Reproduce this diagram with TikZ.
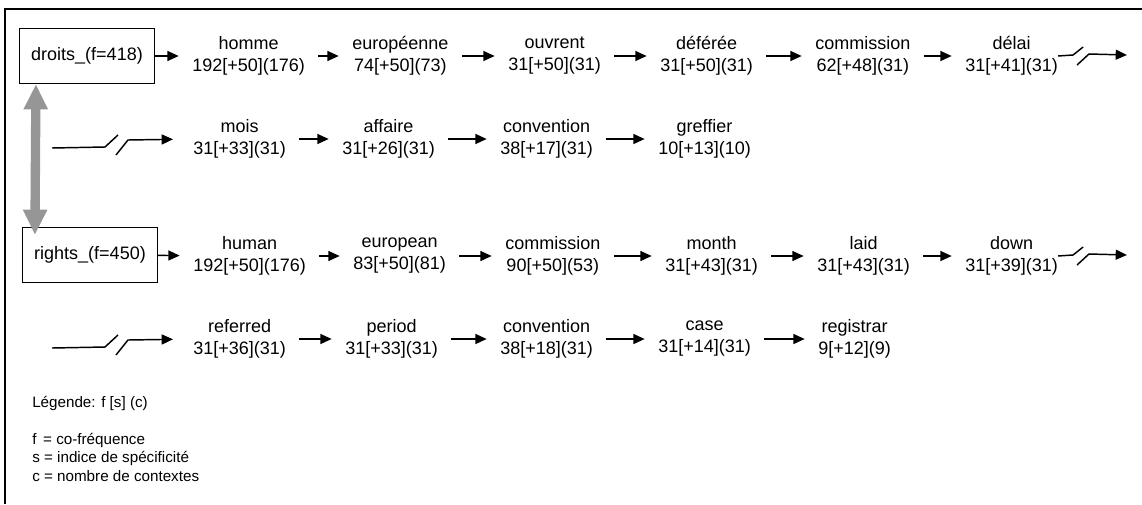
\documentclass[tikz,border=0pt]{standalone}
\usepackage{fontspec}
\usetikzlibrary{arrows.meta,calc}
\newfontfamily\lib{Liberation Sans}
\newcommand\wfont{\lib\fontsize{13.5}{16.5}\selectfont}
\newcommand\lfont{\lib\fontsize{11.4}{13}\selectfont}
\definecolor{grayarrow}{RGB}{150,150,150}
\tikzset{
 word/.style={font=\wfont, align=center, inner sep=0pt, anchor=west},
 arr/.style={-{Triangle[length=8.5pt,width=7.5pt]}, line width=1.1pt, shorten <=10pt, shorten >=10pt},
 brk/.style={line width=1.1pt},
 brkarr/.style={-{Triangle[length=8.5pt,width=7.5pt]}, line width=1.1pt},
 headbox/.style={draw, line width=1.1pt, minimum width=101pt, minimum height=41pt, inner sep=0pt, font=\wfont},
 dbl/.style={{Triangle[length=19pt,width=17pt]}-{Triangle[length=19pt,width=17pt]}, line width=7pt, draw=grayarrow},
 legend/.style={font=\lfont, anchor=west, inner sep=0pt},
}
\begin{document}
\begin{tikzpicture}[x=0.75pt,y=-0.75pt]
\useasboundingbox (0,0) rectangle (1142,504);
\draw[line width=1.5pt] (5,504) -- (5,9) -- (1142,9);

% row 1
\node[headbox] (droits) at (87,56) {droits\_(f=418)};
\node[word] (homme) at (192,56) {homme\\192[+50](176)};
\node[word] (europeenne) at (352,56) {européenne\\74[+50](73)};
\node[word] (ouvrent) at (508,56) {ouvrent\\31[+50](31)};
\node[word] (deferee) at (660,56) {déférée\\31[+50](31)};
\node[word] (commissionA) at (815,56) {commission\\62[+48](31)};
\node[word] (delai) at (965,56) {délai\\31[+41](31)};

\draw[arr, shorten <=0pt] (droits) -- (homme);
\draw[arr] (homme) -- (europeenne);
\draw[arr] (europeenne) -- (ouvrent);
\draw[arr] (ouvrent) -- (deferee);
\draw[arr] (deferee) -- (commissionA);
\draw[arr] (commissionA) -- (delai);

\coordinate (b1s) at (1077,65);
\coordinate (b1e) at (1127,55);
\draw[brk] (delai.east) -- ++(15,-1) -- ++(10,-8);
\draw[brkarr] (b1s) -- ++(12,-11) -- (b1e);

% row 2
\node[word] (mois) at (193,139) {mois\\31[+33](31)};
\node[word] (affaire) at (342,139) {affaire\\31[+26](31)};
\node[word] (conventionA) at (500,139) {convention\\38[+17](31)};
\node[word] (greffier) at (658,139) {greffier\\10[+13](10)};

\coordinate (b2a) at (52,148);
\coordinate (b2b) at (116,155);
\draw[brk] (b2a) -- ++(53,-1) -- ++(13,-12);
\draw[brkarr, shorten >=15pt] (b2b) -- ++(12,-15) -- (mois.west);
\draw[arr] (mois) -- (affaire);
\draw[arr] (affaire) -- (conventionA);
\draw[arr] (conventionA) -- (greffier);

% row 3
\node[headbox] (rights) at (90,255) {rights\_(f=450)};
\node[word] (human) at (193,256) {human\\192[+50](176)};
\node[word] (european) at (353,256) {european\\83[+50](81)};
\node[word] (commissionB) at (505,256) {commission\\90[+50](53)};
\node[word] (month) at (665,256) {month\\31[+43](31)};
\node[word] (laid) at (817,256) {laid\\31[+43](31)};
\node[word] (down) at (965,256) {down\\31[+39](31)};

\draw[arr, shorten <=0pt] (rights) -- (human);
\draw[arr] (human) -- (european);
\draw[arr] (european) -- (commissionB);
\draw[arr] (commissionB) -- (month);
\draw[arr] (month) -- (laid);
\draw[arr] (laid) -- (down);

\coordinate (b3s) at (1077,265);
\coordinate (b3e) at (1127,255);
\draw[brk] (down.east) -- ++(15,-1) -- ++(10,-8);
\draw[brkarr] (b3s) -- ++(12,-11) -- (b3e);

% row 4
\node[word] (referred) at (193,339) {referred\\31[+36](31)};
\node[word] (period) at (345,339) {period\\31[+33](31)};
\node[word] (conventionB) at (500,339) {convention\\38[+18](31)};
\node[word] (case) at (658,339) {case\\31[+14](31)};
\node[word] (registrar) at (818,339) {registrar\\9[+12](9)};

\coordinate (b4a) at (52,348);
\coordinate (b4b) at (116,355);
\draw[brk] (b4a) -- ++(53,-1) -- ++(13,-12);
\draw[brkarr, shorten >=15pt] (b4b) -- ++(12,-15) -- (referred.west);
\draw[arr] (referred) -- (period);
\draw[arr] (period) -- (conventionB);
\draw[arr] (conventionB) -- (case);
\draw[arr] (case) -- (registrar);

% gray double arrow
\draw[dbl] ([xshift=12.75pt]droits.south west) -- ([xshift=9.75pt,yshift=-6pt]rights.north west);

% legend
\node[legend] (leg) at (32,403) {Légende: f [s] (c)};
\node[legend] (legf) at (32,440) {f\, = co-fréquence};
\node[legend] (legs) at (32,458) {s = indice de spécificité};
\node[legend] (legc) at (32,476) {c = nombre de contextes};
\end{tikzpicture}
\end{document}
